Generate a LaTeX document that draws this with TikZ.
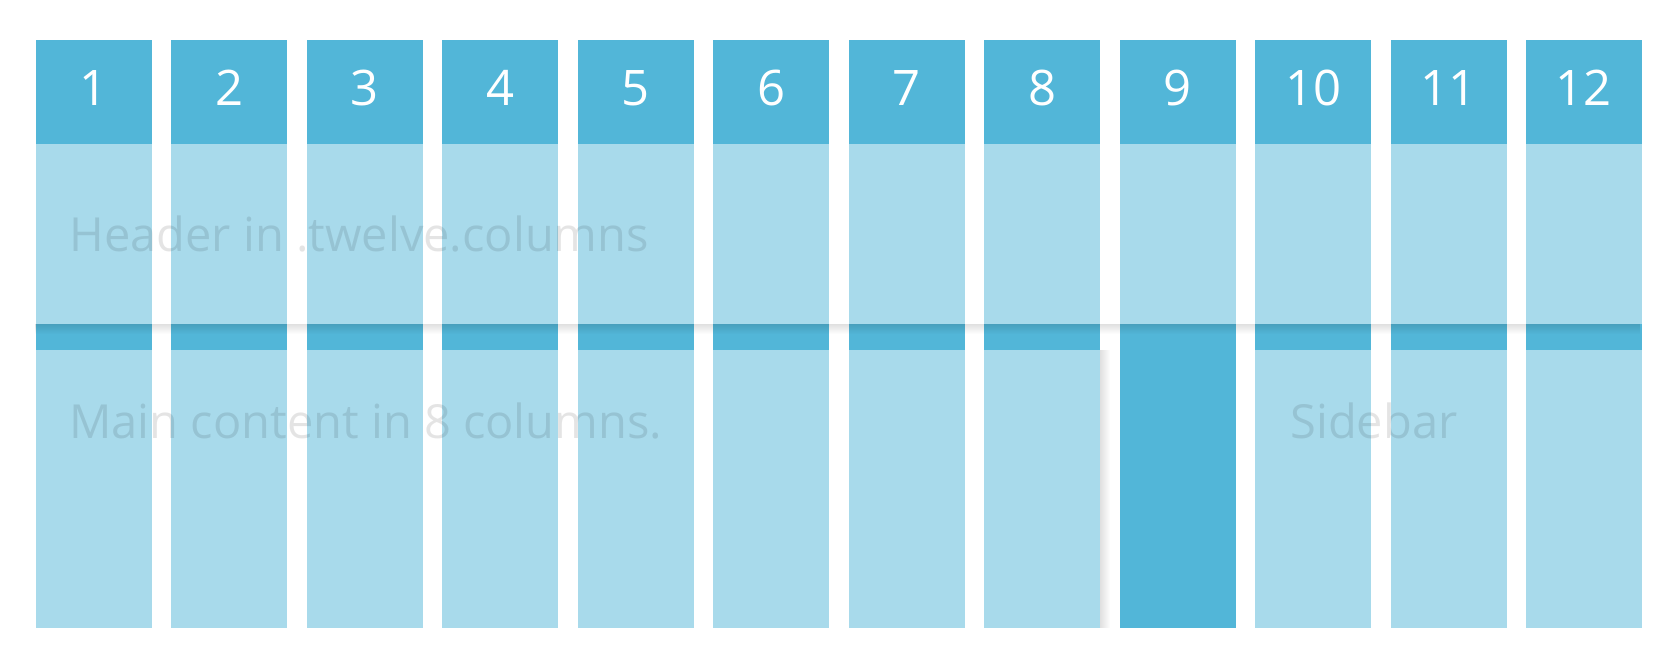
\documentclass[tikz,border=0pt]{standalone}
\usepackage{fontspec}
\setmainfont{Open Sans}
\usetikzlibrary{positioning, fadings}
\definecolor{gridblue}{HTML}{52B6D8}

\begin{document}
\begin{tikzpicture}[
  x=0.5pt, y=-0.5pt,
  font=\fontsize{24.5}{29}\selectfont,
  gridcol/.style={rectangle, fill=gridblue, inner sep=0pt, outer sep=0pt, minimum width=58pt, minimum height=294pt, anchor=north west},
  colnum/.style={text=white, inner sep=0pt},
  veil/.style={fill=white, fill opacity=0.5},
  ghosttext/.style={text=black, text opacity=0.1, anchor=base west, inner sep=0pt, font=\fontsize{23.5}{28}\selectfont},
  dropshade/.style={fill=black, fill opacity=0.12}
]

% Canvas
\useasboundingbox (0,0) rectangle (1680,652);

% Twelve grid columns
\foreach \i in {1,...,12} {
  \node[gridcol] (col\i) at ({36+(\i-1)*135.45}, 40) {};
  \node[colnum] (num\i) at ({94+(\i-1)*135.45}, 88) {\i};
}

% Row edges
\coordinate (hdrTop) at (0,144);
\coordinate (hdrBot) at (0,324);
\coordinate (rowTop) at (0,350);

% Veils over the columns
\fill[veil] (col1.west |- hdrTop) rectangle (col12.east |- hdrBot);
\fill[veil] (col1.west |- rowTop) rectangle (col8.south east);
\fill[veil] (col10.west |- rowTop) rectangle (col12.south east);

% Soft shadows
\fill[dropshade, path fading=south] (col1.west |- hdrBot) rectangle ([yshift=-5pt]col12.east |- hdrBot);
\fill[dropshade, path fading=east] (col8.south east) rectangle ([xshift=5pt]col8.east |- rowTop);

% Labels
\node[ghosttext] (hdrText) at (69,252) {Header in .twelve.columns};
\node[ghosttext] (mainText) at (69,438) {Main content in 8 columns.};
\node[ghosttext] (sideText) at (1290,438) {Sidebar};

\end{tikzpicture}
\end{document}
